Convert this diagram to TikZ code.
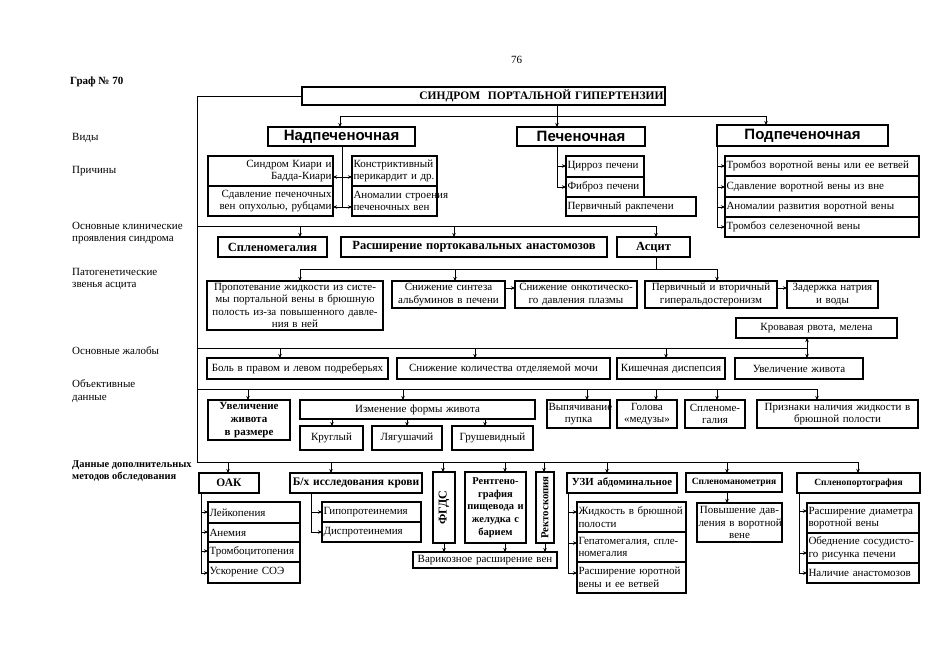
\documentclass[tikz,border=0pt]{standalone}
\usepackage{fontspec}
\setmainfont{Liberation Serif}
\newfontfamily\hsans{Liberation Sans}
\usetikzlibrary{arrows.meta}
\newcommand\fTx{\fontsize{11}{12.6}\selectfont}
\newcommand\fBd{\fontsize{11.5}{12.8}\selectfont\bfseries}
\newcommand\fBg{\fontsize{12.5}{14}\selectfont\bfseries}
\newcommand\fHd{\fontsize{15}{17}\selectfont\hsans\bfseries}
\newcommand\fSm{\fontsize{9.5}{11}\selectfont\bfseries}
\newcommand\Bx[7]{%
 \pgfmathsetmacro\bxw{#4-#2-3}\pgfmathsetmacro\bxh{#5-#3}%
 \node[box,#6,anchor=north west,text width=\bxw pt,minimum height=\bxh pt] (#1) at (#2,#3) {#7};}
\begin{document}
\begin{tikzpicture}[x=1pt,y=-1pt,
  box/.style={draw,line width=1.1pt,inner xsep=1.5pt,inner ysep=0pt,outer sep=0pt,font=\fTx,align=center},
  lab/.style={anchor=west,font=\fTx,align=left,inner sep=0pt},
  ln/.style={line width=0.9pt},
  arr/.style={line width=0.9pt,-{Stealth[length=4pt,width=3.5pt]}}]
\fill[white] (0,0) rectangle (937,650);
\useasboundingbox (0,0) rectangle (937,650);
% page number and labels
\node[lab] (pg) at (511,60) {76};
\node[lab,font=\fTx\bfseries] (graf) at (70,82) {Граф № 70};
\node[lab] (l1) at (72,138) {Виды};
\node[lab] (l2) at (72,171) {Причины};
\node[lab] (l3) at (72,233) {Основные клинические\\проявления синдрома};
\node[lab] (l4) at (72,279) {Патогенетические\\звенья асцита};
\node[lab] (l5) at (72,351) {Основные жалобы};
\node[lab] (l6) at (72,391) {Объективные\\данные};
\node[lab,font=\fontsize{10.4}{12.6}\selectfont\bfseries] (l7) at (72,471) {Данные дополнительных\\методов обследования};
% title and types
\Bx{title}{302}{87}{665}{105}{align=right,font=\fBd}{СИНДРОМ\ \ ПОРТАЛЬНОЙ ГИПЕРТЕНЗИИ}
\Bx{nad}{268}{127}{415}{146}{font=\fHd}{Надпеченочная}
\Bx{pech}{517}{127}{645}{146}{font=\fHd}{Печеночная}
\Bx{podp}{717}{125}{888}{146}{font=\fHd}{Подпеченочная}
% causes
\Bx{k1}{208}{156}{333}{186}{align=right}{Синдром Киари~и\\Бадда-Киари}
\Bx{k2}{208}{186}{333}{216}{align=right}{Сдавление печеночных\\вен~опухолью,~рубцами}
\Bx{k3}{352}{156}{437}{186}{align=left}{Констриктивный\\перикардит~и~др.}
\Bx{k4}{352}{186}{437}{216}{align=left}{Аномалии~строения\\печеночных~вен}
\Bx{p1}{566}{156}{644}{177}{align=left}{Цирроз~печени}
\Bx{p2}{566}{177}{644}{197}{align=left}{Фиброз~печени}
\Bx{p3}{566}{197}{696}{216}{align=left}{Первичный ракпечени}
\Bx{q1}{725}{156}{919}{176}{align=left}{Тромбоз~воротной~вены~или~ее~ветвей}
\Bx{q2}{725}{176}{919}{197}{align=left}{Сдавление воротной вены из вне}
\Bx{q3}{725}{197}{919}{217}{align=left}{Аномалии развития воротной вены}
\Bx{q4}{725}{217}{919}{237}{align=left}{Тромбоз селезеночной вены}
% clinical
\Bx{c1}{218}{237}{327}{257}{font=\fBg}{Спленомегалия}
\Bx{c2}{341}{237}{607}{257}{font=\fBg}{Расширение портокавальных анастомозов}
\Bx{c3}{617}{237}{690}{257}{font=\fBg}{Асцит}
% pathogenesis
\Bx{g1}{207}{281}{383}{330}{}{Пропотевание~жидкости~из~систе-\\мы~портальной~вены~в~брюшную\\полость~из-за~повышенного~давле-\\ния в ней}
\Bx{g2}{392}{281}{505}{308}{}{Снижение синтеза\\альбуминов~в~печени}
\Bx{g3}{515}{281}{637}{308}{}{Снижение~онкотическо-\\го давления плазмы}
\Bx{g4}{645}{281}{777}{308}{}{Первичный~и~вторичный\\гиперальдостеронизм}
\Bx{g5}{787}{281}{878}{308}{}{Задержка~натрия\\и воды}
\Bx{kr}{736}{318}{897}{338}{}{Кровавая рвота, мелена}
% complaints
\Bx{z1}{207}{358}{388}{379}{}{Боль~в~правом~и~левом~подреберьях}
\Bx{z2}{397}{358}{610}{379}{}{Снижение количества отделяемой мочи}
\Bx{z3}{617}{358}{725}{379}{}{Кишечная~диспепсия}
\Bx{z4}{735}{358}{863}{379}{}{Увеличение живота}
% objective
\Bx{o1}{208}{400}{290}{440}{font=\fTx\bfseries}{Увеличение\\живота\\в~размере}
\Bx{o2}{300}{400}{535}{419}{}{Изменение формы живота}
\Bx{o3}{300}{426}{363}{450}{}{Круглый}
\Bx{o4}{372}{426}{442}{450}{}{Лягушачий}
\Bx{o5}{452}{426}{533}{450}{}{Грушевидный}
\Bx{o6}{547}{400}{610}{428}{}{Выпячивание\\пупка}
\Bx{o7}{617}{400}{677}{428}{}{Голова\\«медузы»}
\Bx{o8}{685}{400}{745}{428}{}{Спленоме-\\галия}
\Bx{o9}{757}{400}{918}{428}{}{Признаки~наличия~жидкости~в\\брюшной полости}
% additional methods
\Bx{d1}{199}{473}{259}{493}{font=\fBd}{ОАК}
\Bx{d1a}{208}{502}{300}{523}{align=left}{Лейкопения}
\Bx{d1b}{208}{523}{300}{542}{align=left}{Анемия}
\Bx{d1c}{208}{542}{300}{562}{align=left}{Тромбоцитопения}
\Bx{d1d}{208}{562}{300}{583}{align=left}{Ускорение~СОЭ}
\Bx{d2}{290}{473}{422}{493}{font=\fBd}{Б/х~исследования~крови}
\Bx{d2a}{322}{502}{421}{522}{align=left}{Гипопротеинемия}
\Bx{d2b}{322}{522}{421}{542}{align=left}{Диспротеинемия}
\Bx{d3}{433}{472}{455}{543}{}{\rotatebox{90}{\fontsize{12}{13}\selectfont\bfseries ФГДС}}
\Bx{d4}{465}{472}{526}{543}{font=\fontsize{10.5}{12.8}\selectfont\bfseries}{Рентгено-\\графия\\пищевода~и\\желудка~с\\барием}
\Bx{d5}{536}{472}{554}{543}{}{\rotatebox{90}{\fontsize{10.8}{12}\selectfont\bfseries Ректоскопия}}
\Bx{d6}{413}{552}{557}{568}{}{Варикозное~расширение~вен}
\Bx{d7}{567}{473}{677}{493}{font=\fontsize{10.8}{12.6}\selectfont\bfseries}{УЗИ~абдоминальное}
\Bx{d7a}{577}{502}{686}{532}{align=left}{Жидкость~в~брюшной\\полости}
\Bx{d7b}{577}{532}{686}{562}{align=left}{Гепатомегалия,~спле-\\номегалия}
\Bx{d7c}{577}{562}{686}{593}{align=left}{Расширение~юротной\\вены~и~ее~ветвей}
\Bx{d8}{686}{473}{782}{492}{font=\fSm}{Спленоманометрия}
\Bx{d8a}{697}{503}{782}{542}{}{Повышение~дав-\\ления~в~воротной\\вене}
\Bx{d9}{797}{473}{920}{493}{font=\fSm}{Спленопортография}
\Bx{d9a}{807}{503}{919}{533}{align=left}{Расширение~диаметра\\воротной~вены}
\Bx{d9b}{807}{533}{919}{563}{align=left}{Обеднение~сосудисто-\\го~рисунка~печени}
\Bx{d9c}{807}{563}{919}{583}{align=left}{Наличие~анастомозов}
% ---------- connectors ----------
\coordinate (T0) at (197,462);
\draw[ln] (title.west) -| (T0);
\coordinate (hT) at (557,116);
\coordinate (tA) at (340,116);
\coordinate (tC) at (766,116);
\draw[ln] (title.south -| hT) -- (hT);
\draw[ln] (tA) -- (tC);
\draw[arr] (tA) -- (tA |- nad.north);
\draw[arr] (hT) -- (hT |- pech.north);
\draw[arr] (tC) -- (tC |- podp.north);
% nad causes
\coordinate (nv1) at (342,177);
\coordinate (nv2) at (342,207);
\draw[ln] (nad.south -| nv1) -- (nv2);
\draw[arr] (nv1) -- (nv1 -| k1.east);
\draw[arr] (nv1) -- (nv1 -| k3.west);
\draw[arr] (nv2) -- (nv2 -| k2.east);
\draw[arr] (nv2) -- (nv2 -| k4.west);
% pech causes
\coordinate (pv1) at (557,166);
\coordinate (pv2) at (557,187);
\draw[ln] (pech.south -| pv1) -- (pv2);
\draw[arr] (pv1) -- (pv1 -| p1.west);
\draw[arr] (pv2) -- (pv2 -| p2.west);
% podp causes
\coordinate (qv1) at (717,166);
\coordinate (qv2) at (717,187);
\coordinate (qv3) at (717,207);
\coordinate (qv4) at (717,227);
\draw[ln] (podp.south west) -- (qv4);
\draw[arr] (qv1) -- (qv1 -| q1.west);
\draw[arr] (qv2) -- (qv2 -| q2.west);
\draw[arr] (qv3) -- (qv3 -| q3.west);
\draw[arr] (qv4) -- (qv4 -| q4.west);
% clinical
\coordinate (h1) at (197,226);
\coordinate (c1a) at (300,226);
\coordinate (c2a) at (454,226);
\coordinate (c3a) at (656,226);
\draw[ln] (h1) -- (c3a);
\draw[arr] (c1a) -- (c1a |- c1.north);
\draw[arr] (c2a) -- (c2a |- c2.north);
\draw[arr] (c3a) -- (c3a |- c3.north);
% pathogenesis
\coordinate (g1a) at (300,269);
\coordinate (g2a) at (455,269);
\coordinate (g3a) at (656,269);
\coordinate (g4a) at (717,269);
\draw[ln] (c3.south -| g3a) -- (g3a);
\draw[ln] (g1a) -- (g4a);
\draw[arr] (g1a) -- (g1a |- g1.north);
\draw[arr] (g2a) -- (g2a |- g2.north);
\draw[arr] (g4a) -- (g4a |- g4.north);
\coordinate (gy) at (0,288);
\draw[arr] (g2.east |- gy) -- (g3.west |- gy);
\draw[arr] (g4.east |- gy) -- (g5.west |- gy);
% complaints
\coordinate (h3) at (197,348);
\coordinate (z1a) at (280,348);
\coordinate (z2a) at (475,348);
\coordinate (z3a) at (666,348);
\coordinate (z4a) at (807,348);
\draw[ln] (h3) -- (z4a);
\draw[arr] (z1a) -- (z1a |- z1.north);
\draw[arr] (z2a) -- (z2a |- z2.north);
\draw[arr] (z3a) -- (z3a |- z3.north);
\draw[arr] (z4a) -- (z4a |- kr.south);
\draw[arr] (z4a) -- (z4a |- z4.north);
% objective
\coordinate (h4) at (197,389);
\coordinate (o1a) at (248,389);
\coordinate (o2a) at (403,389);
\coordinate (o6a) at (587,389);
\coordinate (o7a) at (656,389);
\coordinate (o8a) at (717,389);
\coordinate (o9a) at (817,389);
\draw[ln] (h4) -- (o9a);
\draw[arr] (o1a) -- (o1a |- o1.north);
\draw[arr] (o2a) -- (o2a |- o2.north);
\draw[arr] (o6a) -- (o6a |- o6.north);
\draw[arr] (o7a) -- (o7a |- o7.north);
\draw[arr] (o8a) -- (o8a |- o8.north);
\draw[arr] (o9a) -- (o9a |- o9.north);
\coordinate (o3a) at (332,0);
\coordinate (o4a) at (407,0);
\coordinate (o5a) at (485,0);
\draw[arr] (o2.south -| o3a) -- (o3.north -| o3a);
\draw[arr] (o2.south -| o4a) -- (o4.north -| o4a);
\draw[arr] (o2.south -| o5a) -- (o5.north -| o5a);
% additional methods
\coordinate (h5) at (858,462);
\draw[ln] (T0) -- (h5);
\foreach \xx/\nn in {228/d1,331/d2,443/d3,505/d4,544/d5,607/d7,727/d8,858/d9}{
  \draw[arr] (\xx,462) -- (\nn.north -| {\xx,0});
}
% OAK
\coordinate (a1) at (201,512);
\coordinate (a2) at (201,532);
\coordinate (a3) at (201,551);
\coordinate (a4) at (201,573);
\draw[ln] (d1.south -| a1) -- (a4);
\draw[arr] (a1) -- (a1 -| d1a.west);
\draw[arr] (a2) -- (a2 -| d1b.west);
\draw[arr] (a3) -- (a3 -| d1c.west);
\draw[arr] (a4) -- (a4 -| d1d.west);
% biochem
\coordinate (b1) at (311,512);
\coordinate (b2) at (311,532);
\draw[ln] (d2.south -| b1) -- (b2);
\draw[arr] (b1) -- (b1 -| d2a.west);
\draw[arr] (b2) -- (b2 -| d2b.west);
% to varicose
\draw[arr] (d3.south) -- (d3.south |- d6.north);
\draw[arr] (d4.south -| {505,0}) -- (d6.north -| {505,0});
\draw[arr] (d5.south) -- (d5.south |- d6.north);
% USI
\coordinate (u1) at (568,512);
\coordinate (u2) at (568,543);
\coordinate (u3) at (568,573);
\draw[ln] (d7.south -| u1) -- (u3);
\draw[arr] (u1) -- (u1 -| d7a.west);
\draw[arr] (u2) -- (u2 -| d7b.west);
\draw[arr] (u3) -- (u3 -| d7c.west);
% splenomanometry
\draw[arr] (d8.south -| {727,0}) -- (d8a.north -| {727,0});
% splenoportography
\coordinate (s1) at (799,511);
\coordinate (s2) at (799,553);
\coordinate (s3) at (799,573);
\draw[ln] (d9.south -| s1) -- (s3);
\draw[arr] (s1) -- (s1 -| d9a.west);
\draw[arr] (s2) -- (s2 -| d9b.west);
\draw[arr] (s3) -- (s3 -| d9c.west);
\end{tikzpicture}
\end{document}
